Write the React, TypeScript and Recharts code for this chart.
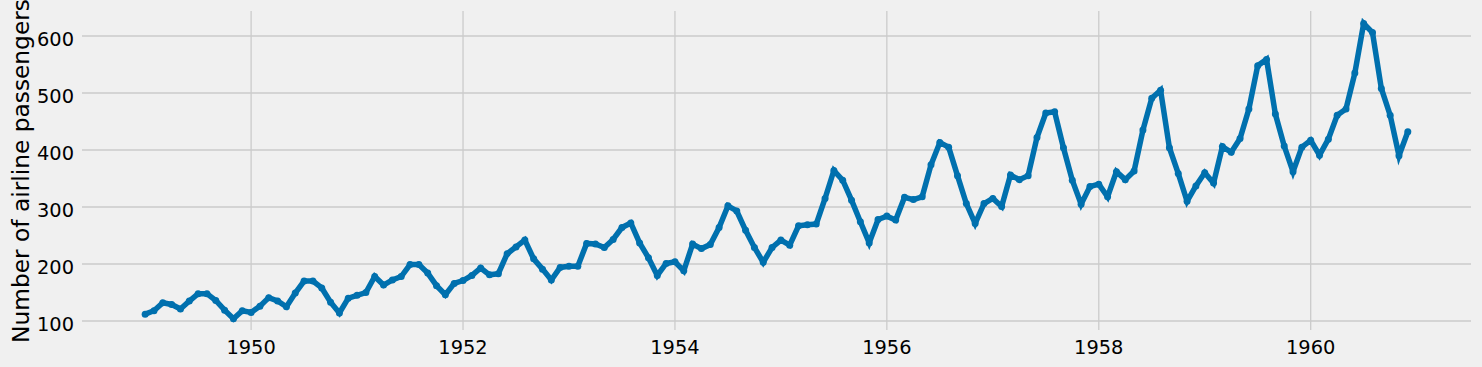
import React from 'react';
import { CartesianGrid, Line, LineChart, XAxis, YAxis } from 'recharts';

// monthly airline passengers (thousands), Jan..Dec
const years = [1949, 1950, 1951, 1952, 1953, 1954, 1955, 1956, 1957, 1958, 1959, 1960];
const p1949 = [112, 118, 132, 129, 121, 135, 148, 148, 136, 119, 104, 118];
const p1950 = [115, 126, 141, 135, 125, 149, 170, 170, 158, 133, 114, 140];
const p1951 = [145, 150, 178, 163, 172, 178, 199, 199, 184, 162, 146, 166];
const p1952 = [171, 180, 193, 181, 183, 218, 230, 242, 209, 191, 172, 194];
const p1953 = [196, 196, 236, 235, 229, 243, 264, 272, 237, 211, 180, 201];
const p1954 = [204, 188, 235, 227, 234, 264, 302, 293, 259, 229, 203, 229];
const p1955 = [242, 233, 267, 269, 270, 315, 364, 347, 312, 274, 237, 278];
const p1956 = [284, 277, 317, 313, 318, 374, 413, 405, 355, 306, 271, 306];
const p1957 = [315, 301, 356, 348, 355, 422, 465, 467, 404, 347, 305, 336];
const p1958 = [340, 318, 362, 348, 363, 435, 491, 505, 404, 359, 310, 337];
const p1959 = [360, 342, 406, 396, 420, 472, 548, 559, 463, 407, 362, 405];
const p1960 = [417, 391, 419, 461, 472, 535, 622, 606, 508, 461, 390, 432];

const xTicks = [1950, 1952, 1954, 1956, 1958, 1960];
const yTicks = [100, 200, 300, 400, 500, 600];
const xDomain = [1948.404, 1961.513];
const yDomain = [84.2, 643.9];

const byYear = [p1949, p1950, p1951, p1952, p1953, p1954, p1955, p1956, p1957, p1958, p1959, p1960];
const data = years.flatMap((y, i) =>
  byYear[i].map((v, m) => ({ t: y + m / 12, passengers: v })),
);

const BLUE = '#0070ae';
const FONT = 'DejaVu Sans, sans-serif';

const YTitle = () => (
  <text
    x={28.5}
    y={171}
    transform="rotate(-90 28.5 171)"
    textAnchor="middle"
    fontFamily={FONT}
    fontSize={23.3}
    fill="#000"
  >
    Number of airline passengers
  </text>
);

// grid lines only at the tick values (no frame round the plot)
const hLines = ({ offset }: any) =>
  yTicks.map((v) => offset.top + ((yDomain[1] - v) / (yDomain[1] - yDomain[0])) * offset.height);
const vLines = ({ offset }: any) =>
  xTicks.map((v) => offset.left + ((v - xDomain[0]) / (xDomain[1] - xDomain[0])) * offset.width);

export default function App() {
  return (
    <div style={{ position: 'absolute', left: 0, top: 0, width: 1482, height: 367, background: '#f0f0f0' }}>
      <LineChart
        width={1482}
        height={367}
        data={data}
        margin={{ top: 11, right: 11, bottom: 0, left: 0 }}
        style={{ background: '#f0f0f0' }}
      >
        <CartesianGrid
          stroke="#cbcbcb"
          strokeWidth={1.3}
          horizontalCoordinatesGenerator={hLines}
          verticalCoordinatesGenerator={vLines}
        />
        <XAxis
          dataKey="t"
          type="number"
          domain={xDomain}
          allowDataOverflow
          ticks={xTicks}
          height={37}
          axisLine={false}
          tickLine={false}
          tickSize={0}
          tickMargin={10}
          tick={{ fontFamily: FONT, fontSize: 19.4, fill: '#000' }}
        />
        <YAxis
          type="number"
          domain={yDomain}
          allowDataOverflow
          ticks={yTicks}
          width={82}
          axisLine={false}
          tickLine={false}
          tickSize={0}
          tickMargin={8}
          tick={{ fontFamily: FONT, fontSize: 19.4, fill: '#000', dy: 3 }}
          label={{ content: () => <YTitle /> }}
        />
        <Line
          dataKey="passengers"
          stroke={BLUE}
          strokeWidth={5.5}
          dot={{ r: 3.5, fill: BLUE, stroke: BLUE, strokeWidth: 0 }}
          activeDot={false}
          isAnimationActive={false}
        />
      </LineChart>
    </div>
  );
}
